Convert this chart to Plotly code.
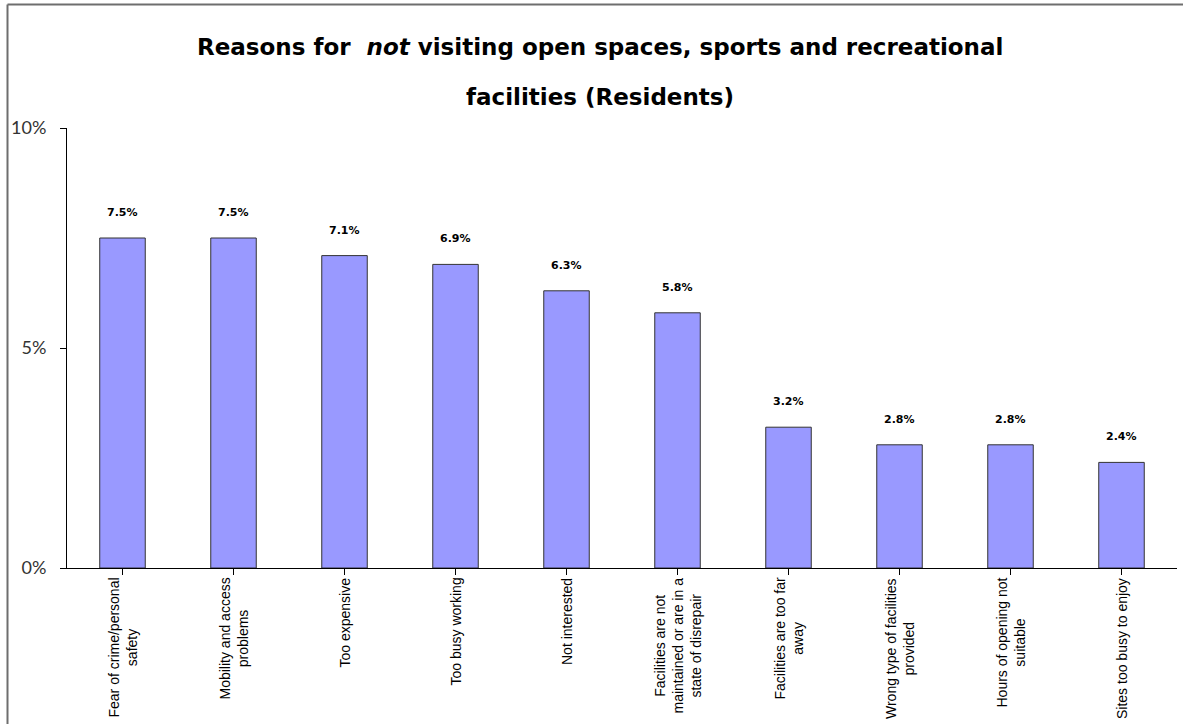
import plotly.graph_objects as go

# Survey results: share of residents citing each reason (percent)
reasons = [
    "Fear of crime/personal<br>safety",
    "Mobility and access<br>problems",
    "Too expensive",
    "Too busy working",
    "Not interested",
    "Facilities are not<br>maintained or are in a<br>state of disrepair",
    "Facilities are too far<br>away",
    "Wrong type of facilities<br>provided",
    "Hours of opening not<br>suitable",
    "Sites too busy to enjoy",
]
shares = [7.5, 7.5, 7.1, 6.9, 6.3, 5.8, 3.2, 2.8, 2.8, 2.4]
y_ticks = [0, 5, 10]
y_tick_labels = ["0%", "5%", "10%"]

W, H = 1183, 724
L, R, T, B = 67, 6, 128, 156
plot_w = W - L - R
plot_h = H - T - B


def px_to_paper_x(px):
    return (px - L) / plot_w


def px_to_paper_y(py):
    return (H - B - py) / plot_h


cats = list(range(len(reasons)))

fig = go.Figure()
fig.add_trace(go.Bar(
    x=cats,
    y=shares,
    marker=dict(color="#9999FF", line=dict(color="#333333", width=1)),
    hoverinfo="skip",
))

annotations = []
# value labels above each bar
for c, v in zip(cats, shares):
    annotations.append(dict(
        x=c, y=v, xref="x", yref="y",
        text=f"<b>{v:.1f}%</b>",
        showarrow=False, yanchor="bottom", yshift=17,
        font=dict(family="DejaVu Sans, sans-serif", size=11, color="#000000"),
    ))
# rotated category labels under the axis
for c, name in zip(cats, reasons):
    annotations.append(dict(
        x=c, y=0, xref="x", yref="paper",
        text=name, textangle=-90, align="center",
        showarrow=False, yanchor="top", xanchor="center", yshift=-8,
        font=dict(family="Liberation Sans, Arial, sans-serif", size=14, color="#000000"),
    ))
# two-line title
title_font = dict(family="DejaVu Sans, sans-serif", size=23, color="#000000")
annotations.append(dict(
    x=px_to_paper_x(600), y=px_to_paper_y(47), xref="paper", yref="paper",
    text="<b>Reasons for\u00a0 <i>not</i> visiting open spaces, sports and recreational</b>",
    showarrow=False, xanchor="center", yanchor="middle", font=title_font,
))
annotations.append(dict(
    x=px_to_paper_x(600), y=px_to_paper_y(97), xref="paper", yref="paper",
    text="<b>facilities (Residents)</b>",
    showarrow=False, xanchor="center", yanchor="middle", font=title_font,
))

shapes = [
    # outer frame (left and top edges)
    dict(type="line", xref="paper", yref="paper",
         x0=px_to_paper_x(7.5), x1=px_to_paper_x(7.5),
         y0=px_to_paper_y(4.5), y1=px_to_paper_y(730),
         line=dict(color="#6e6e6e", width=2)),
    dict(type="line", xref="paper", yref="paper",
         x0=px_to_paper_x(7.5), x1=px_to_paper_x(1190),
         y0=px_to_paper_y(4.5), y1=px_to_paper_y(4.5),
         line=dict(color="#6e6e6e", width=2)),
]

fig.update_layout(
    width=W, height=H,
    margin=dict(l=L, r=R, t=T, b=B, pad=0),
    paper_bgcolor="#ffffff",
    plot_bgcolor="#ffffff",
    showlegend=False,
    bargap=0.59,
    annotations=annotations,
    shapes=shapes,
    xaxis=dict(
        range=[-0.5, len(reasons) - 0.5],
        tickmode="array", tickvals=cats, ticktext=[""] * len(cats),
        tickson="boundaries", ticks="outside", ticklen=6, tickcolor="#000000",
        showline=True, linecolor="#000000", linewidth=1,
        showgrid=False, zeroline=False, fixedrange=True,
    ),
    yaxis=dict(
        range=[0, 10],
        tickmode="array", tickvals=y_ticks, ticktext=y_tick_labels,
        ticks="outside", ticklen=6, tickcolor="#000000",
        ticklabelstandoff=10,
        tickfont=dict(family="Lato, sans-serif", size=18, color="#333333"),
        showline=True, linecolor="#000000", linewidth=1,
        showgrid=False, zeroline=False, fixedrange=True,
    ),
)

fig.write_html("out.html", config={"displayModeBar": False})
